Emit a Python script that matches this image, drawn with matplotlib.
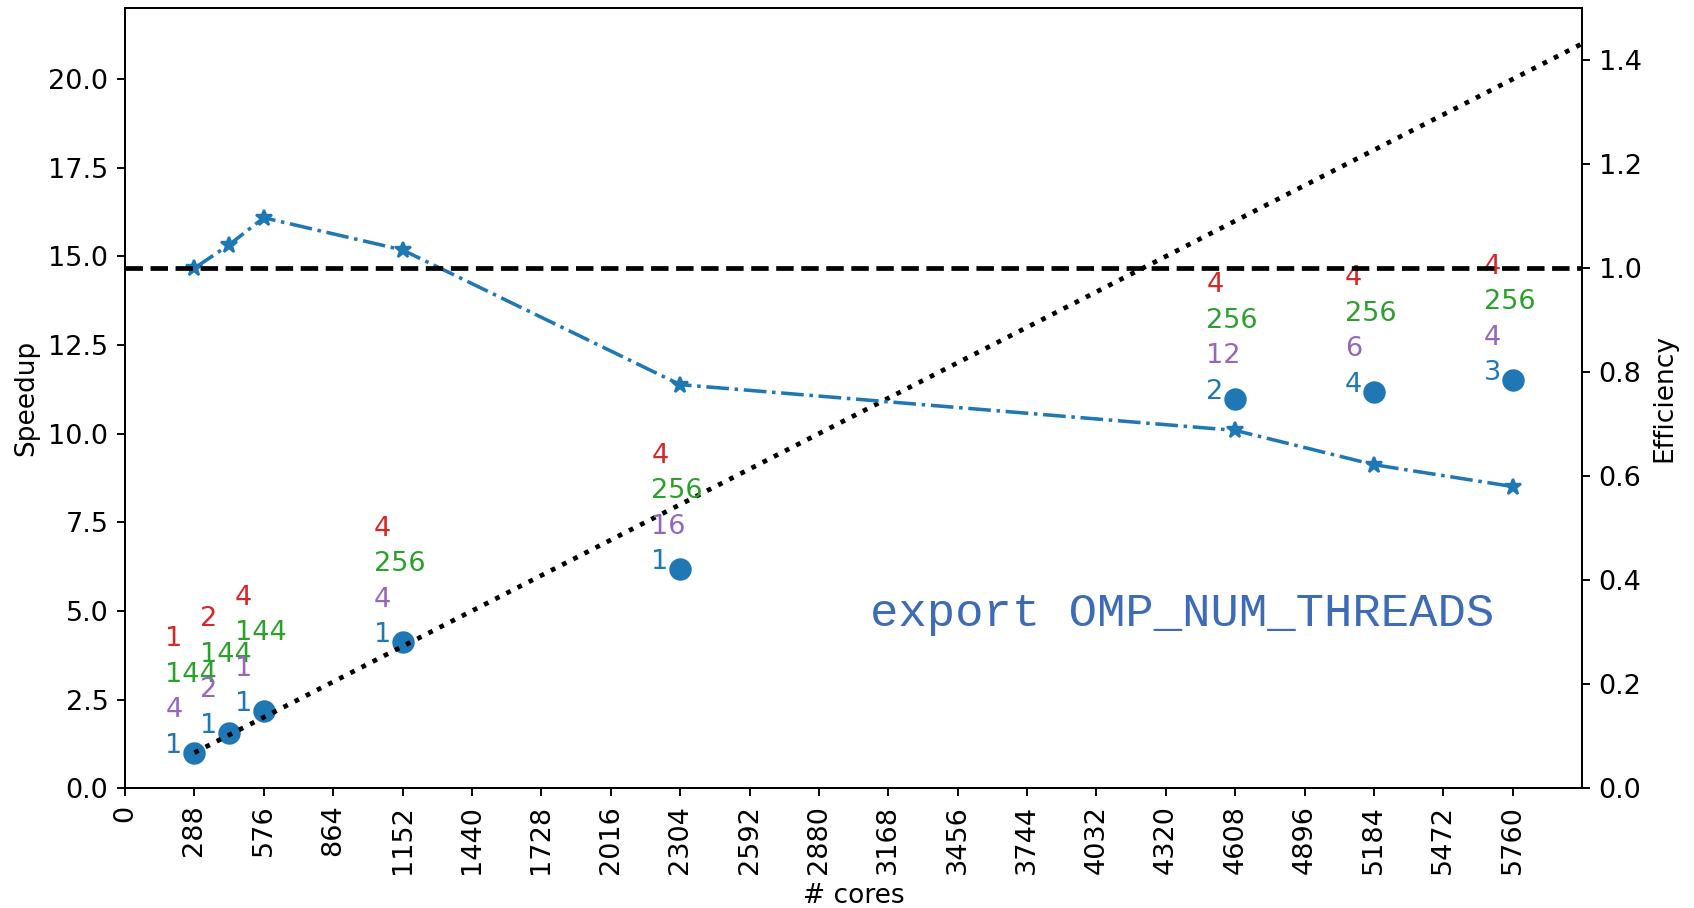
"""Strong-scaling plot: speedup and parallel efficiency against core count."""

import matplotlib

matplotlib.use("Agg")
import matplotlib.pyplot as plt  # noqa: E402

# measured runs
cores = [288, 432, 576, 1152, 2304, 4608, 5184, 5760]
speedup = [1.0, 1.56, 2.17, 4.12, 6.17, 10.99, 11.18, 11.51]
efficiency = [1.0, 1.045, 1.097, 1.035, 0.776, 0.688, 0.622, 0.58]

# run configuration, printed in a column above each point (bottom to top)
omp_threads = ["1", "1", "1", "1", "1", "2", "4", "3"]
per_node = ["4", "2", "1", "4", "16", "12", "6", "4"]
ranks = ["144", "144", "144", "256", "256", "256", "256", "256"]
nodes = ["1", "2", "4", "4", "4", "4", "4", "4"]

# linear-scaling reference line
ideal_cores = [288, 6048]
ideal_speedup = [1.0, 21.0]

base = 288
xticks = list(range(0, 5761, base))


def plot_scaling(destination: str) -> None:
    plt.rcParams["xtick.labelsize"] = 11.5
    plt.rcParams["ytick.labelsize"] = 11.5
    plt.rcParams["axes.labelsize"] = 11.2

    fig, ax = plt.subplots(figsize=(1694 / 170, 908 / 170), dpi=170)
    fig.subplots_adjust(left=0.0738, right=0.934, bottom=0.132, top=0.991)

    ax.plot(cores, speedup, "o", color="tab:blue", markersize=8.5, zorder=2)
    ax.plot(ideal_cores, ideal_speedup, ":", color="black", lw=2, zorder=3)

    columns = zip(omp_threads, per_node, ranks, nodes)
    colors = ["tab:blue", "tab:purple", "tab:green", "tab:red"]
    for x, y, labels in zip(cores, speedup, columns):
        for level, (label, color) in enumerate(zip(labels, colors)):
            ax.text(x - 120, y + level, label, color=color, fontsize=11.5, ha="left")

    ax.text(3090, 4.92, "export OMP_NUM_THREADS", color="#3d6bb5", fontsize=20,
            family="Liberation Mono", ha="left", va="center")

    ax.set_xlim(0, 6048)
    ax.set_ylim(0, 22)
    ax.set_xticks(xticks)
    ax.tick_params(axis="x", rotation=90)
    ax.set_xlabel("# cores")
    ax.set_ylabel("Speedup")

    ax2 = ax.twinx()
    ax2.plot(cores, efficiency, "-.*", color="tab:blue", markersize=7)
    ax2.axhline(1.0, color="black", ls="--", lw=2)
    ax2.set_ylim(0, 1.5)
    ax2.set_ylabel("Efficiency")

    fig.savefig(destination)
    plt.close(fig)


plot_scaling("out.png")
